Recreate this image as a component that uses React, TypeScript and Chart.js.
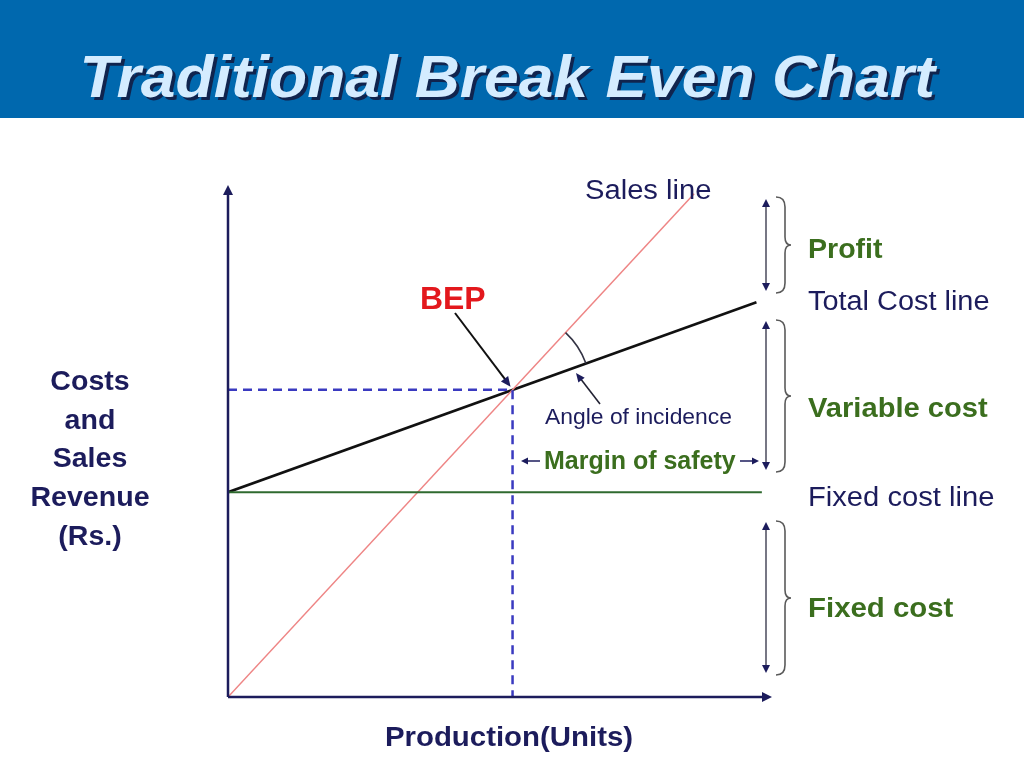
import React, { useEffect, useRef } from "react";
import { Chart, registerables } from "chart.js";

Chart.register(...registerables);

// ---- data (chart units: production 0..100, costs/revenue 0..100) ----
const salesX = [0, 86];
const salesY = [0, 98.3];
const totalCostX = [0, 97.5];
const totalCostY = [40, 77.1];
const fixedCostX = [0, 98.5];
const fixedCostY = [40, 40];
const bepPoint = [52.5, 60];
const axisMax = [100, 100];

const yLabelLines = ["Costs", "and", "Sales", "Revenue", "(Rs.)"];
const xLabel = "Production(Units)";
const titleText = "Traditional Break Even Chart";

const NAVY = "#1c1c5c";
const GREEN = "#3b6e1e";
const RED = "#e3181d";
const FONT = '"Liberation Sans", Arial, Helvetica, sans-serif';

function pts(xs: number[], ys: number[]) {
  return xs.map((x, i) => ({ x, y: ys[i] }));
}

function arrowHead(ctx: CanvasRenderingContext2D, x: number, y: number, ang: number, len = 9, half = 4.5, color = NAVY) {
  ctx.save();
  ctx.translate(x, y);
  ctx.rotate(ang);
  ctx.beginPath();
  ctx.moveTo(0, 0);
  ctx.lineTo(-len, -half);
  ctx.lineTo(-len, half);
  ctx.closePath();
  ctx.fillStyle = color;
  ctx.fill();
  ctx.restore();
}

function line(ctx: CanvasRenderingContext2D, x1: number, y1: number, x2: number, y2: number, color: string, w: number) {
  ctx.beginPath();
  ctx.moveTo(x1, y1);
  ctx.lineTo(x2, y2);
  ctx.strokeStyle = color;
  ctx.lineWidth = w;
  ctx.stroke();
}

function text(ctx: CanvasRenderingContext2D, s: string, x: number, y: number, font: string, color: string, align: CanvasTextAlign = "left", sx = 1) {
  ctx.save();
  ctx.font = font;
  ctx.fillStyle = color;
  ctx.textAlign = align;
  ctx.textBaseline = "alphabetic";
  ctx.translate(x, y);
  ctx.scale(sx, 1);
  ctx.fillText(s, 0, 0);
  ctx.restore();
}

function brace(ctx: CanvasRenderingContext2D, x: number, top: number, bottom: number) {
  const mid = (top + bottom) / 2;
  const w = 9;
  ctx.beginPath();
  ctx.moveTo(x, top);
  ctx.quadraticCurveTo(x + w, top, x + w, top + 10);
  ctx.lineTo(x + w, mid - 8);
  ctx.quadraticCurveTo(x + w, mid, x + w + 6, mid);
  ctx.quadraticCurveTo(x + w, mid, x + w, mid + 8);
  ctx.lineTo(x + w, bottom - 10);
  ctx.quadraticCurveTo(x + w, bottom, x, bottom);
  ctx.strokeStyle = "#5a5a5a";
  ctx.lineWidth = 1.6;
  ctx.stroke();
}

function dblArrow(ctx: CanvasRenderingContext2D, x: number, top: number, bottom: number) {
  line(ctx, x, top + 4, x, bottom - 4, "#555566", 1.6);
  arrowHead(ctx, x, top, -Math.PI / 2, 8, 4);
  arrowHead(ctx, x, bottom, Math.PI / 2, 8, 4);
}

const annotationPlugin = {
  id: "breakEvenAnnotations",
  afterDatasetsDraw(chart: any) {
    const ctx: CanvasRenderingContext2D = chart.ctx;
    const xs = chart.scales.x;
    const ys = chart.scales.y;
    const ox = xs.getPixelForValue(0);
    const oy = ys.getPixelForValue(0);
    const topY = ys.getPixelForValue(axisMax[1]);
    const rightX = xs.getPixelForValue(axisMax[0]);
    ctx.save();

    // axes with arrows
    line(ctx, ox, oy, ox, topY + 4, NAVY, 2.5);
    arrowHead(ctx, ox, topY, -Math.PI / 2, 10, 5);
    line(ctx, ox, oy, rightX - 2, oy, NAVY, 2.5);
    arrowHead(ctx, rightX + 2, oy, 0, 10, 5);

    const bx = xs.getPixelForValue(bepPoint[0]);
    const by = ys.getPixelForValue(bepPoint[1]);

    // angle of incidence arc
    const sEndX = xs.getPixelForValue(salesX[1]);
    const sEndY = ys.getPixelForValue(salesY[1]);
    const tEndX = xs.getPixelForValue(totalCostX[1]);
    const tEndY = ys.getPixelForValue(totalCostY[1]);
    const a1 = Math.atan2(sEndY - by, sEndX - bx);
    const a2 = Math.atan2(tEndY - by, tEndX - bx);
    ctx.beginPath();
    ctx.arc(bx, by, 78, a1, a2);
    ctx.strokeStyle = "#333344";
    ctx.lineWidth = 1.6;
    ctx.stroke();

    // BEP label + arrow
    text(ctx, "BEP", 420, 309, `bold 31px ${FONT}`, RED, "left", 1.03);
    line(ctx, 455, 313, bx - 4, by - 6, "#111111", 2);
    arrowHead(ctx, bx - 2, by - 3, Math.atan2(by - 3 - 313, bx - 2 - 455), 10, 4.5);

    // angle of incidence label + arrow
    text(ctx, "Angle of incidence", 545, 424, `22px ${FONT}`, NAVY, "left", 1.04);
    line(ctx, 600, 404, 580, 378, "#222233", 1.6);
    arrowHead(ctx, 576, 373, Math.atan2(373 - 404, 576 - 600), 9, 4);

    // margin of safety
    text(ctx, "Margin of safety", 544, 469, `bold 25px ${FONT}`, GREEN, "left", 1.0);
    line(ctx, 540, 461, 526, 461, NAVY, 1.5);
    arrowHead(ctx, 521, 461, Math.PI, 7, 3.5);
    line(ctx, 740, 461, 754, 461, NAVY, 1.5);
    arrowHead(ctx, 759, 461, 0, 7, 3.5);

    // sales line label
    text(ctx, "Sales line", 585, 199, `27px ${FONT}`, NAVY, "left", 1.08);

    // right side brackets
    const bxR = 766;
    dblArrow(ctx, bxR, 199, 291);
    brace(ctx, 776, 197, 293);
    dblArrow(ctx, bxR, 321, 470);
    brace(ctx, 776, 320, 472);
    dblArrow(ctx, bxR, 522, 673);
    brace(ctx, 776, 521, 675);

    text(ctx, "Profit", 808, 258, `bold 28px ${FONT}`, GREEN, "left", 1.02);
    text(ctx, "Total Cost line", 808, 310, `27px ${FONT}`, NAVY, "left", 1.07);
    text(ctx, "Variable cost", 808, 417, `bold 28px ${FONT}`, GREEN, "left", 1.04);
    text(ctx, "Fixed cost line", 808, 506, `27px ${FONT}`, NAVY, "left", 1.08);
    text(ctx, "Fixed cost", 808, 617, `bold 28px ${FONT}`, GREEN, "left", 1.05);

    // axis titles
    yLabelLines.forEach((s, i) => {
      text(ctx, s, 90, 390 + i * 38.7, `bold 28px ${FONT}`, NAVY, "center", 1.02);
    });
    text(ctx, xLabel, 509, 746, `bold 28px ${FONT}`, NAVY, "center", 1.05);

    ctx.restore();
  },
};

export default function App() {
  const ref = useRef<HTMLCanvasElement | null>(null);

  useEffect(() => {
    if (!ref.current) return;
    const chart = new Chart(ref.current, {
      type: "scatter",
      data: {
        datasets: [
          {
            label: "BEP guides",
            data: [
              { x: 0, y: bepPoint[1] },
              { x: bepPoint[0], y: bepPoint[1] },
              { x: bepPoint[0], y: 0 },
            ],
            showLine: true,
            borderColor: "#3a3ac0",
            borderWidth: 2.5,
            borderDash: [9, 6],
            pointRadius: 0,
          },
          {
            label: "Fixed cost line",
            data: pts(fixedCostX, fixedCostY),
            showLine: true,
            borderColor: "#2f6a2f",
            borderWidth: 2,
            pointRadius: 0,
          },
          {
            label: "Sales line",
            data: pts(salesX, salesY),
            showLine: true,
            borderColor: "#ee8585",
            borderWidth: 1.5,
            pointRadius: 0,
          },
          {
            label: "Total Cost line",
            data: pts(totalCostX, totalCostY),
            showLine: true,
            borderColor: "#111111",
            borderWidth: 2.5,
            pointRadius: 0,
          },
        ],
      },
      options: {
        responsive: false,
        animation: false,
        events: [],
        layout: { padding: { left: 228, right: 254, top: 185, bottom: 71 } },
        plugins: {
          legend: { display: false },
          tooltip: { enabled: false },
          title: { display: false },
        },
        scales: {
          x: { type: "linear", min: 0, max: axisMax[0], display: false },
          y: { type: "linear", min: 0, max: axisMax[1], display: false },
        },
      },
      plugins: [annotationPlugin],
    });
    return () => chart.destroy();
  }, []);

  return (
    <div style={{ position: "absolute", left: 0, top: 0, width: 1024, height: 768, background: "#ffffff", overflow: "hidden" }}>
      <canvas ref={ref} width={1024} height={768} style={{ position: "absolute", left: 0, top: 0, width: 1024, height: 768 }} />
      <div style={{ position: "absolute", left: 0, top: 0, width: 1024, height: 118, background: "#0068ae" }}>
        <div
          style={{
            position: "absolute",
            left: 0,
            width: 1024,
            top: 47,
            textAlign: "center",
            fontFamily: FONT,
            fontWeight: "bold",
            fontStyle: "italic",
            fontSize: 60,
            lineHeight: "60px",
            color: "#d4ecff",
            textShadow: "3px 3px 0 #10244e",
            whiteSpace: "nowrap",
          }}
        >
          <span style={{ display: "inline-block", transform: "scaleX(1.04)", marginLeft: -10 }}>{titleText}</span>
        </div>
      </div>
    </div>
  );
}
